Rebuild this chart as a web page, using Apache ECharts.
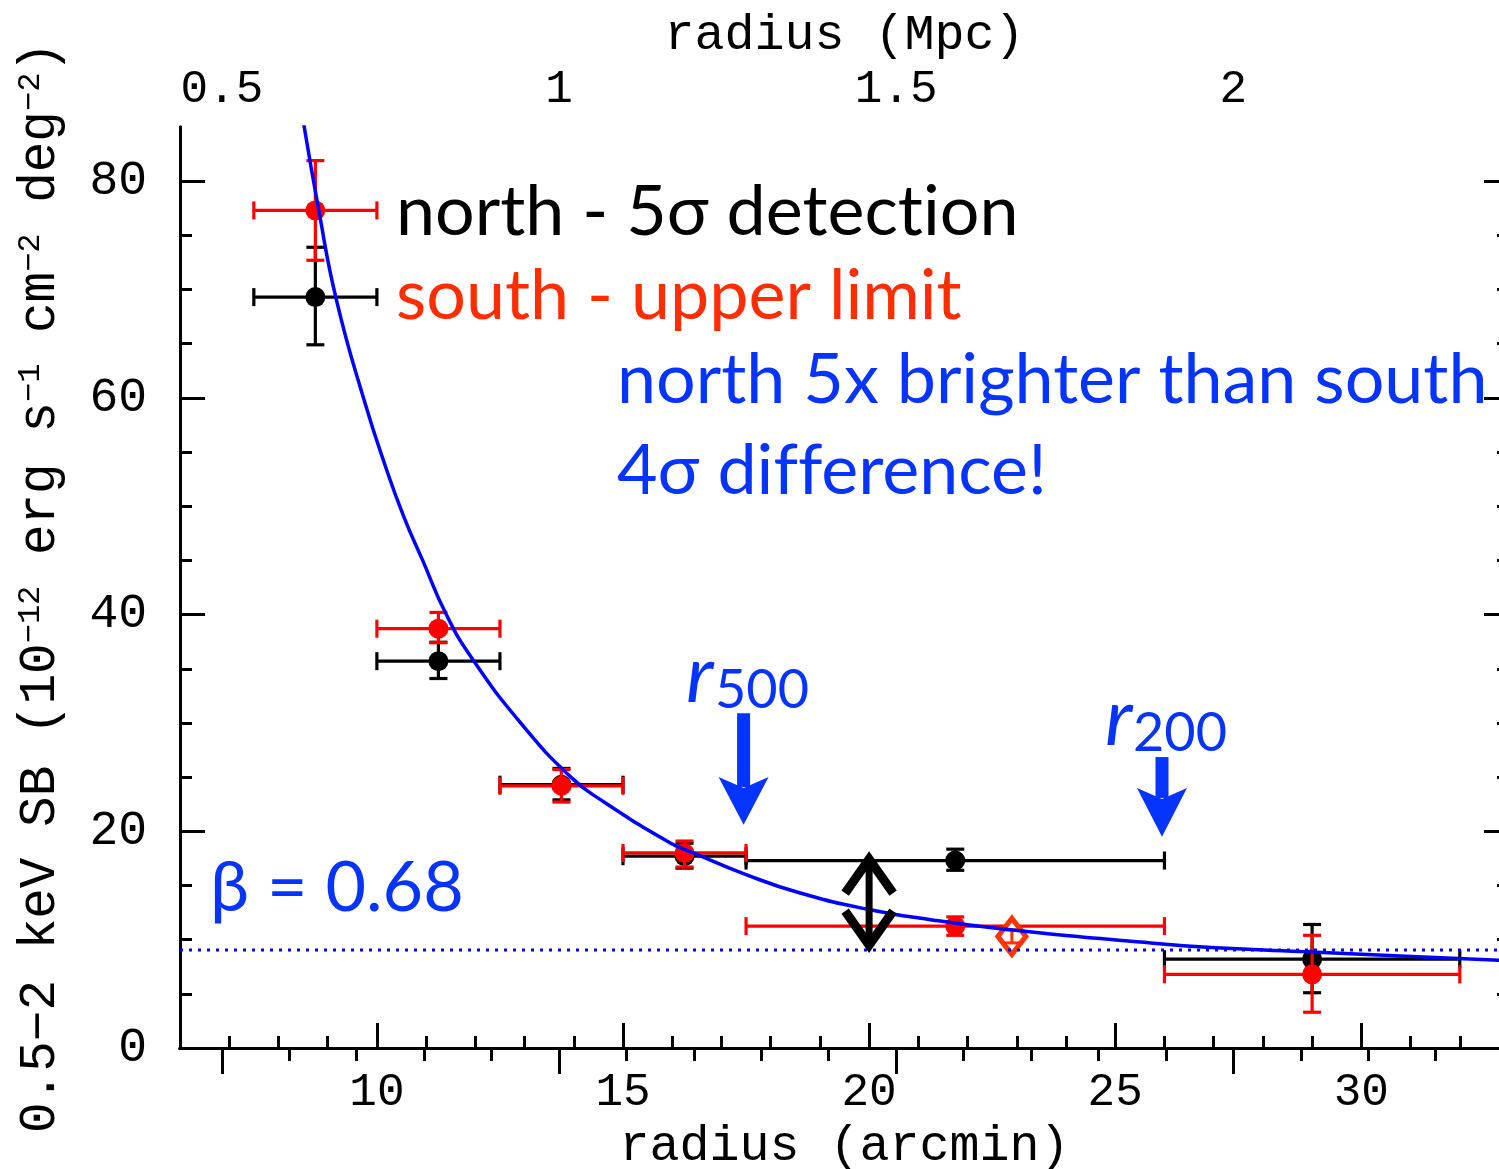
<!DOCTYPE html>
<html>
<head>
<meta charset="utf-8">
<title>surface brightness profile</title>
<script src="https://cdn.jsdelivr.net/npm/echarts@6/dist/echarts.min.js"></script>
<style>
  html, body { margin: 0; padding: 0; background: #fff; }
  #chart { width: 1499px; height: 1169px; }
</style>
</head>
<body>
<div id="chart"></div>
<script>
// each bin: [radius, radiusLow, radiusHigh, SB, SBLow, SBHigh]
var northBins = [
  [8.75, 7.5, 10, 69.3, 64.9, 73.9],
  [11.25, 10, 12.5, 35.7, 34.1, 37.45],
  [13.75, 12.5, 15, 24.3, 22.9, 25.8],
  [16.25, 15, 17.5, 17.7, 16.6, 18.9],
  [21.75, 17.5, 26, 17.3, 16.4, 18.35],
  [29, 26, 32, 8.2, 5.1, 11.4]
];
var southBins = [
  [8.75, 7.5, 10, 77.3, 72.7, 81.9],
  [11.25, 10, 12.5, 38.7, 37.4, 40.2],
  [13.75, 12.5, 15, 24.2, 22.7, 25.7],
  [16.25, 15, 17.5, 18.0, 16.7, 19.1],
  [21.75, 17.5, 26, 11.25, 10.4, 12.1],
  [29, 26, 32, 6.8, 3.3, 10.4]
];
var southDiamond = [[22.9, 22.9, 22.9, 10.3, 9.7, 10.9]];

// beta model curve
var betaModel = [
  [8.47, 86.5], [8.82, 77.3], [9.18, 69.0], [9.74, 59.8], [10.18, 53.6],
  [10.55, 49.0], [10.93, 45.0], [11.4, 40.1], [11.91, 36.1], [12.92, 30.0],
  [13.94, 25.0], [14.55, 22.9], [15.97, 18.9], [16.43, 18.0], [17.5, 16.0],
  [18.6, 14.3], [19.97, 12.8], [21.31, 11.8], [22.67, 11.0], [24.7, 10.1],
  [25.72, 9.7], [26.7, 9.35], [28.76, 8.9], [30.79, 8.5], [33, 8.05]
];
var background = [[6, 9.05], [33, 9.05]];

// arrows: [radius, top, headBase, tip]
var r500Arrow = [[17.45, 30.9, 25.0, 20.6]];
var r200Arrow = [[25.95, 26.85, 24.0, 19.5]];
// double arrow: [radius, top, bottom]
var diffArrow = [[20, 17.8, 9.13]];

var radiusMin = 6, radiusMax = 33;
var arcminPerMpc = 13.7;
var sbMin = 0, sbMax = 85;

var arcminTicks = [10, 15, 20, 25, 30];
var arcminMinor = [7, 8, 9, 11, 12, 13, 14, 16, 17, 18, 19, 21, 22, 23, 24, 26, 27, 28, 29, 31, 32];
var mpcTicks = [0.5, 1, 1.5, 2];
var mpcMinor = [0.6, 0.7, 0.8, 0.9, 1.1, 1.2, 1.3, 1.4, 1.6, 1.7, 1.8, 1.9, 2.1, 2.2, 2.3, 2.4];
var sbTicks = [0, 20, 40, 60, 80];
var sbMinor = [5, 10, 15, 25, 30, 35, 45, 50, 55, 65, 70, 75];

var axisFont = 'Liberation Mono';
var textFont = 'Lato';
var blueText = '#0533ff';
var redText = '#ff2d00';
var ZWNJ = '\u200c'; // keeps Lato from joining "ti" / "ff"

var chart = echarts.init(document.getElementById('chart'));

function axisBase(ticks, len, showLabel) {
  return {
    type: 'value',
    axisLine: { show: true, lineStyle: { color: '#000', width: 3 } },
    axisTick: { show: true, inside: true, length: len, customValues: ticks, lineStyle: { color: '#000', width: 3 } },
    axisLabel: showLabel ? { show: true, customValues: ticks, color: '#000', fontFamily: axisFont, fontSize: 46 } : { show: false },
    splitLine: { show: false }
  };
}

function xAxisDef(pos, min, max, ticks, len, showLabel) {
  var a = axisBase(ticks, len, showLabel);
  a.position = pos;
  a.min = min;
  a.max = max;
  return a;
}
function yAxisDef(pos, ticks, len, showLabel) {
  var a = axisBase(ticks, len, showLabel);
  a.position = pos;
  a.min = sbMin;
  a.max = sbMax;
  return a;
}

var xBottom = xAxisDef('bottom', radiusMin, radiusMax, arcminTicks, 25, true);
xBottom.axisLabel.margin = 22;
xBottom.name = 'radius (arcmin)';
xBottom.nameLocation = 'middle';
xBottom.nameGap = 74;
xBottom.nameTextStyle = { fontFamily: axisFont, fontSize: 50, color: '#000', verticalAlign: 'top' };

var xTop = xAxisDef('top', radiusMin / arcminPerMpc, radiusMax / arcminPerMpc, mpcTicks, 26, true);
xTop.axisLabel.margin = 14;
xTop.axisLabel.formatter = function (v) { return String(v); };
xTop.name = 'radius (Mpc)';
xTop.nameLocation = 'middle';
xTop.nameGap = 66;
xTop.nameTextStyle = { fontFamily: axisFont, fontSize: 50, color: '#000', verticalAlign: 'bottom' };

var yLeft = yAxisDef('left', sbTicks, 25, true);
yLeft.axisLabel.margin = 33;
yLeft.axisLabel.fontSize = 48;
yLeft.name = '0.5\u22122 keV SB (10{s|\u221212} erg s{s|\u22121} cm{s|\u22122} deg{s|\u22122})';
yLeft.nameLocation = 'middle';
yLeft.nameGap = 114;
yLeft.nameTextStyle = {
  fontFamily: axisFont, fontSize: 51, color: '#000',
  rich: { s: { fontFamily: axisFont, fontSize: 32, verticalAlign: 'top', color: '#000' } }
};

function errorBars(color) {
  return function (params, api) {
    var y = api.value(3);
    var c = api.coord([api.value(0), y]);
    var xl = api.coord([api.value(1), y])[0];
    var xh = api.coord([api.value(2), y])[0];
    var yl = api.coord([api.value(0), api.value(4)])[1];
    var yh = api.coord([api.value(0), api.value(5)])[1];
    var cap = 9;
    var segs = [
      [xl, c[1], xh, c[1]],
      [xl, c[1] - cap, xl, c[1] + cap],
      [xh, c[1] - cap, xh, c[1] + cap],
      [c[0], yl, c[0], yh],
      [c[0] - cap, yl, c[0] + cap, yl],
      [c[0] - cap, yh, c[0] + cap, yh]
    ];
    return {
      type: 'group',
      children: segs.map(function (s) {
        return { type: 'line', shape: { x1: s[0], y1: s[1], x2: s[2], y2: s[3] }, style: { stroke: color, lineWidth: 3.2 } };
      })
    };
  };
}

// open diamond with a short vertical bar, for the extra south point
function diamondMark(params, api) {
  var c = api.coord([api.value(0), api.value(3)]);
  var yl = api.coord([api.value(0), api.value(4)])[1];
  var yh = api.coord([api.value(0), api.value(5)])[1];
  var hw = 14, hh = 18, col = '#ff3300';
  return {
    type: 'group',
    children: [
      { type: 'polygon', shape: { points: [[c[0], c[1] - hh], [c[0] + hw, c[1]], [c[0], c[1] + hh], [c[0] - hw, c[1]]] },
        style: { fill: '#fff', stroke: col, lineWidth: 5, lineJoin: 'miter' } },
      { type: 'line', shape: { x1: c[0], y1: yl, x2: c[0], y2: yh }, style: { stroke: col, lineWidth: 3 } },
      { type: 'line', shape: { x1: c[0] - 8, y1: yl, x2: c[0] + 8, y2: yl }, style: { stroke: col, lineWidth: 3 } },
      { type: 'line', shape: { x1: c[0] - 8, y1: yh, x2: c[0] + 8, y2: yh }, style: { stroke: col, lineWidth: 3 } }
    ]
  };
}

function downArrow(params, api) {
  var top = api.coord([api.value(0), api.value(1)]);
  var x = top[0];
  var base = api.coord([api.value(0), api.value(2)])[1];
  var tip = api.coord([api.value(0), api.value(3)])[1];
  return {
    type: 'group',
    children: [
      { type: 'rect', shape: { x: x - 6.5, y: top[1], width: 13, height: base - top[1] + 10 }, style: { fill: blueText } },
      { type: 'polygon', shape: { points: [[x - 25, base], [x, tip], [x + 25, base], [x, base + 11]] }, style: { fill: blueText } }
    ]
  };
}

function doubleArrow(params, api) {
  var t = api.coord([api.value(0), api.value(1)]);
  var b = api.coord([api.value(0), api.value(2)]);
  var x = t[0];
  var st = { stroke: '#000', lineWidth: 9, fill: null, lineJoin: 'miter', lineCap: 'butt' };
  return {
    type: 'group',
    children: [
      { type: 'line', shape: { x1: x, y1: t[1] + 4, x2: x, y2: b[1] - 4 }, style: { stroke: '#000', lineWidth: 7 } },
      { type: 'polyline', shape: { points: [[x - 24, t[1] + 38], [x, t[1] + 4], [x + 24, t[1] + 38]] }, style: st },
      { type: 'polyline', shape: { points: [[x - 24, b[1] - 38], [x, b[1] - 4], [x + 24, b[1] - 38]] }, style: st }
    ]
  };
}

function pick(bins) {
  return bins.map(function (b) { return [b[0], b[3]]; });
}

var option = {
  animation: false,
  backgroundColor: '#fff',
  grid: { left: 180, right: -10, top: 127, bottom: 121, outerBoundsMode: 'none', containLabel: false },
  xAxis: [
    xBottom,
    xAxisDef('bottom', radiusMin, radiusMax, arcminMinor, 12, false),
    xTop,
    xAxisDef('top', radiusMin / arcminPerMpc, radiusMax / arcminPerMpc, mpcMinor, 13, false)
  ],
  yAxis: [
    yLeft,
    yAxisDef('left', sbMinor, 12, false),
    yAxisDef('right', sbTicks, 25, false),
    yAxisDef('right', sbMinor, 12, false)
  ],
  series: [
    {
      type: 'custom', renderItem: errorBars('#000'), data: northBins,
      encode: { x: [0, 1, 2], y: [3, 4, 5] }, z: 2
    },
    {
      type: 'scatter', data: pick(northBins), symbol: 'circle', symbolSize: 20,
      itemStyle: { color: '#000', opacity: 1 }, z: 3
    },
    {
      type: 'custom', renderItem: errorBars('#ff0000'), data: southBins,
      encode: { x: [0, 1, 2], y: [3, 4, 5] }, z: 4
    },
    {
      type: 'scatter', data: pick(southBins), symbol: 'circle', symbolSize: 20,
      itemStyle: { color: '#ff0000', opacity: 1 }, z: 5
    },
    {
      type: 'custom', renderItem: diamondMark, data: southDiamond,
      encode: { x: [0, 1, 2], y: [3, 4, 5] }, z: 6
    },
    {
      type: 'line', data: background, showSymbol: false, symbol: 'none',
      lineStyle: { color: '#0000ff', width: 3, type: [3, 6] }, z: 7
    },
    {
      type: 'line', data: betaModel, smooth: 0.5, showSymbol: false, symbol: 'none',
      clip: true, lineStyle: { color: '#0000ff', width: 3.5 }, z: 8
    },
    { type: 'custom', renderItem: downArrow, data: r500Arrow, encode: { x: 0, y: [1, 2, 3] }, z: 9 },
    { type: 'custom', renderItem: downArrow, data: r200Arrow, encode: { x: 0, y: [1, 2, 3] }, z: 9 },
    { type: 'custom', renderItem: doubleArrow, data: diffArrow, encode: { x: 0, y: [1, 2] }, z: 9 }
  ],
  graphic: [
    { type: 'text', x: 396, y: 212, style: { text: 'north - 5\u03c3 detect' + ZWNJ + 'ion', font: '70px ' + textFont, fill: '#000', verticalAlign: 'middle' } },
    { type: 'text', x: 396, y: 296, style: { text: 'south - upper limit', font: '70px ' + textFont, fill: redText, verticalAlign: 'middle' } },
    { type: 'text', x: 617, y: 380, style: { text: 'north 5x brighter than south', font: '70px ' + textFont, fill: blueText, verticalAlign: 'middle' } },
    { type: 'text', x: 617, y: 471, style: { text: '4\u03c3 dif' + ZWNJ + 'ference!', font: '70px ' + textFont, fill: blueText, verticalAlign: 'middle' } },
    { type: 'text', x: 210, y: 888, style: { text: '\u03b2 = 0.68', font: '70px ' + textFont, fill: blueText, verticalAlign: 'middle' } },
    { type: 'text', x: 686, y: 676, style: { text: 'r', font: 'italic 80px ' + textFont, fill: blueText, verticalAlign: 'middle' } },
    { type: 'text', x: 715, y: 691, style: { text: '500', font: '54px ' + textFont, fill: blueText, verticalAlign: 'middle' } },
    { type: 'text', x: 1105, y: 719, style: { text: 'r', font: 'italic 80px ' + textFont, fill: blueText, verticalAlign: 'middle' } },
    { type: 'text', x: 1133, y: 734, style: { text: '200', font: '54px ' + textFont, fill: blueText, verticalAlign: 'middle' } }
  ]
};

chart.setOption(option);
</script>
</body>
</html>
